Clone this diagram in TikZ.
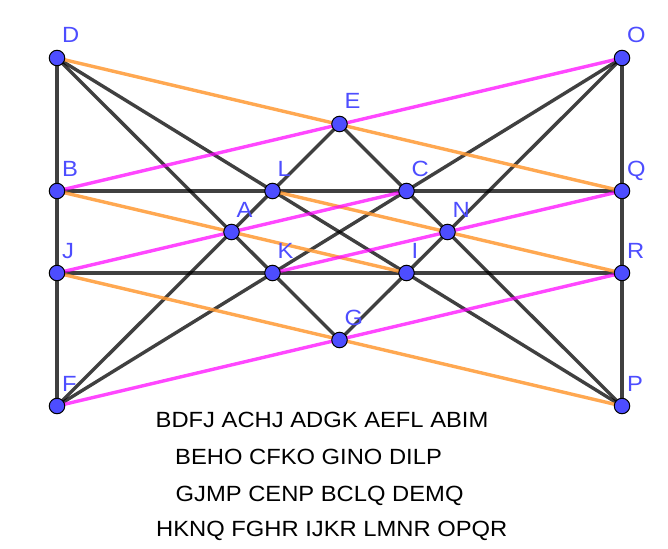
\documentclass[tikz,border=0pt]{standalone}
\usepackage{fontspec}
\setmainfont{Liberation Sans}[FakeStretch=1.08]
\definecolor{ptblue}{RGB}{77,77,255}
\definecolor{lorange}{RGB}{255,153,51}
\definecolor{lmagenta}{RGB}{255,0,255}
\begin{document}
\begin{tikzpicture}[x=1pt,y=-1pt,
  pt/.style={circle,fill=ptblue,draw=black,line width=1pt,inner sep=0pt,minimum size=15.5pt},
  lbl/.style={anchor=base west,inner sep=0pt,text=ptblue,font=\fontsize{22}{26}\selectfont},
  blk/.style={draw=black,draw opacity=0.75,line width=3.4pt},
  org/.style={draw=lorange,draw opacity=0.85,line width=3.4pt},
  mag/.style={draw=lmagenta,draw opacity=0.72,line width=3.4pt},
  txt/.style={anchor=base west,inner sep=0pt,font=\fontsize{22}{26}\selectfont}]
\useasboundingbox (0,0) rectangle (668,548);
\fill[white] (0,0) rectangle (668,548);
% coordinates
\coordinate (D) at (57,58);
\coordinate (O) at (622,58);
\coordinate (E) at (339.5,124);
\coordinate (B) at (57,191);
\coordinate (L) at (272.5,191);
\coordinate (C) at (406.5,191);
\coordinate (Q) at (622,191);
\coordinate (A) at (231.5,232);
\coordinate (N) at (447.5,232);
\coordinate (J) at (57,273);
\coordinate (K) at (272.5,273);
\coordinate (I) at (406.5,273);
\coordinate (R) at (622,273);
\coordinate (G) at (339.5,340);
\coordinate (F) at (57,406);
\coordinate (P) at (622,406);
% black lines
\draw[blk] (D) -- (F);
\draw[blk] (O) -- (P);
\draw[blk] (B) -- (Q);
\draw[blk] (J) -- (R);
\draw[blk] (D) -- (G);
\draw[blk] (F) -- (E);
\draw[blk] (F) -- (O);
\draw[blk] (G) -- (O);
\draw[blk] (D) -- (P);
\draw[blk] (E) -- (P);
% orange lines
\draw[org] (D) -- (Q);
\draw[org] (B) -- (I);
\draw[org] (L) -- (R);
\draw[org] (J) -- (P);
% magenta lines
\draw[mag] (B) -- (O);
\draw[mag] (J) -- (C);
\draw[mag] (K) -- (Q);
\draw[mag] (F) -- (R);
% points and labels
\foreach \p in {D,O,E,B,L,C,Q,A,N,J,K,I,R,G,F,P}{
  \node[pt] (n\p) at (\p) {};
  \node[lbl] (l\p) at ([xshift=5pt,yshift=15pt]\p) {\p};
}
% text
\node[txt] (t1) at (155.5,427.7) {BDFJ ACHJ ADGK AEFL ABIM};
\node[txt] (t2) at (175,464) {BEHO CFKO GINO DILP};
\node[txt] (t3) at (175.5,501) {GJMP CENP BCLQ DEMQ};
\node[txt] (t4) at (156,536.7) {HKNQ FGHR IJKR LMNR OPQR};
\end{tikzpicture}
\end{document}
